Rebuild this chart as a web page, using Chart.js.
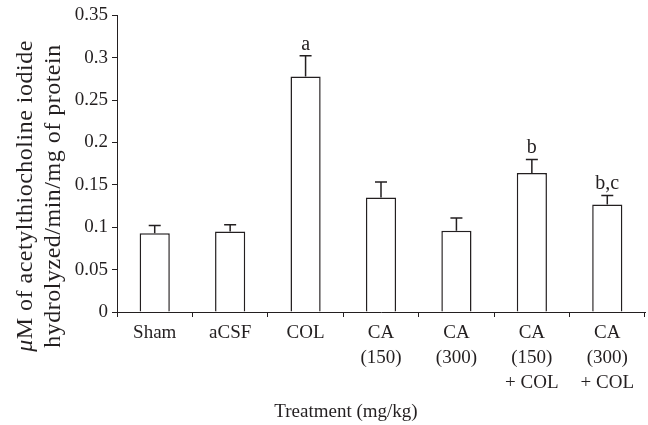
<!DOCTYPE html>
<html>
<head>
<meta charset="utf-8">
<script src="https://cdn.jsdelivr.net/npm/chart.js@4.4.1/dist/chart.umd.min.js"></script>
<style>
  body { margin: 0; background: #fff; }
  #wrap { width: 648px; height: 425px; }
</style>
</head>
<body>
<div id="wrap"><canvas id="chart"></canvas></div>
<script>
// values
const treatments = [
  ["Sham"],
  ["aCSF"],
  ["COL"],
  ["CA", "(150)"],
  ["CA", "(300)"],
  ["CA", "(150)", "+ COL"],
  ["CA", "(300)", "+ COL"],
];
const meanValues = [0.093, 0.095, 0.278, 0.135, 0.096, 0.164, 0.127];
const errorValues = [0.009, 0.008, 0.0245, 0.0185, 0.015, 0.016, 0.0105];
const markLabels = ["", "", "a", "", "", "b", "b,c"];
const yTitleLines = ["\u03bcM of acetylthiocholine iodide", "hydrolyzed/min/mg of protein"];
const xTitle = "Treatment (mg/kg)";

const ink = "#231f20";
const serif = "'Liberation Serif', 'DejaVu Serif', serif";

// error bars (upper only) and significance letters
const errorBarPlugin = {
  id: "errorBars",
  afterDatasetsDraw(chart) {
    const ctx = chart.ctx;
    const meta = chart.getDatasetMeta(0);
    const y = chart.scales.y;
    ctx.save();
    ctx.strokeStyle = ink;
    ctx.lineWidth = 1.5;
    ctx.fillStyle = ink;
    ctx.font = "20px " + serif;
    ctx.textAlign = "center";
    ctx.textBaseline = "alphabetic";
    meta.data.forEach((bar, i) => {
      const top = y.getPixelForValue(meanValues[i] + errorValues[i]);
      const base = y.getPixelForValue(meanValues[i]);
      ctx.beginPath();
      ctx.moveTo(bar.x, base);
      ctx.lineTo(bar.x, top);
      ctx.moveTo(bar.x - 6, top);
      ctx.lineTo(bar.x + 6, top);
      ctx.stroke();
      if (markLabels[i]) {
        ctx.fillText(markLabels[i], bar.x, top - 6);
      }
    });
    ctx.restore();
  },
};

// axis titles drawn by hand so the mu can be italic
const axisTitlePlugin = {
  id: "axisTitles",
  afterDraw(chart) {
    const ctx = chart.ctx;
    const area = chart.chartArea;
    ctx.save();
    ctx.fillStyle = ink;
    ctx.textBaseline = "middle";

    ctx.font = "19px " + serif;
    ctx.textAlign = "center";
    ctx.fillText(xTitle, 346, 412);

    const cy = area.bottom - 116;
    ctx.letterSpacing = "0.5px";
    // first line: italic mu + rest
    ctx.save();
    ctx.translate(26, cy);
    ctx.rotate(-Math.PI / 2);
    const mu = yTitleLines[0].slice(0, 1);
    const rest = yTitleLines[0].slice(1);
    ctx.font = "italic 24px " + serif;
    const muW = ctx.measureText(mu).width;
    ctx.font = "24px " + serif;
    const restW = ctx.measureText(rest).width;
    let x0 = -(muW + restW) / 2;
    ctx.textAlign = "left";
    ctx.font = "italic 24px " + serif;
    ctx.fillText(mu, x0, 0);
    ctx.font = "24px " + serif;
    ctx.fillText(rest, x0 + muW, 0);
    ctx.restore();

    ctx.save();
    ctx.translate(54, cy);
    ctx.rotate(-Math.PI / 2);
    ctx.textAlign = "center";
    ctx.font = "24px " + serif;
    ctx.fillText(yTitleLines[1], 0, 0);
    ctx.restore();

    ctx.restore();
  },
};

new Chart(document.getElementById("chart"), {
  type: "bar",
  data: {
    labels: treatments,
    datasets: [
      {
        data: meanValues,
        backgroundColor: "#ffffff",
        borderColor: ink,
        borderWidth: 1.5,
        barPercentage: 0.4,
        categoryPercentage: 1.0,
      },
    ],
  },
  options: {
    responsive: true,
    maintainAspectRatio: false,
    animation: false,
    layout: { padding: { top: 14, right: 3, left: 0, bottom: 0 } },
    plugins: {
      legend: { display: false },
      tooltip: { enabled: false },
    },
    scales: {
      x: {
        offset: true,
        grid: {
          offset: true,
          drawOnChartArea: false,
          color: ink,
          tickLength: 5,
          tickWidth: 1,
        },
        border: { color: ink, width: 1 },
        ticks: {
          color: ink,
          font: { family: serif, size: 19, lineHeight: 1.31 },
          padding: 4,
          maxRotation: 0,
          autoSkip: false,
        },
        afterFit(scale) {
          scale.height = 113;
        },
      },
      y: {
        min: 0,
        max: 0.35,
        grid: {
          drawOnChartArea: false,
          color: ink,
          tickLength: 5,
          tickWidth: 1,
        },
        border: { color: ink, width: 1 },
        ticks: {
          stepSize: 0.05,
          color: ink,
          font: { family: serif, size: 19 },
          padding: 4,
          callback: (v) => String(+v.toFixed(2)),
        },
        afterFit(scale) {
          scale.width = 117;
        },
      },
    },
  },
  plugins: [errorBarPlugin, axisTitlePlugin],
});
</script>
</body>
</html>
